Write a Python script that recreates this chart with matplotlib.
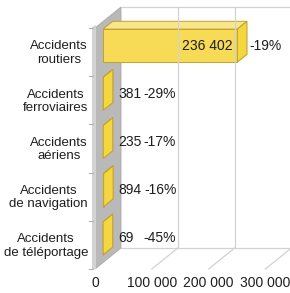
import matplotlib
matplotlib.use("Agg")
import matplotlib.pyplot as plt
from matplotlib.patches import Polygon

plt.rcParams['font.family'] = ['Liberation Sans', 'DejaVu Sans']

categories = ["Accidents\nroutiers", "Accidents\nferroviaires", "Accidents\naériens",
              "Accidents\nde navigation", "Accidents\nde téléportage"]
values = [236402, 381, 235, 894, 69]
value_labels = ["236 402", "381", "235", "894", "69"]
pct_labels = ["-19%", "-29%", "-17%", "-16%", "-45%"]
ticks = [0, 100000, 200000, 300000]
tick_labels = ["0", "100 000", "200 000", "300 000"]

W, H = 290, 293
fig = plt.figure(figsize=(W / 100, H / 100), dpi=100)

# front plane geometry (pixels)
x0_px, x1_px = 95, 95 + 170.4
ytop_px, ybot_px = 28, 269
ax = fig.add_axes([x0_px / W, (H - ybot_px) / H, (x1_px - x0_px) / W, (ybot_px - ytop_px) / H])
ax.set_xlim(0, 300000)
n = len(categories)
YT, YB = -0.5, n - 0.5
ax.set_ylim(YB, YT)
ax.axis('off')

pxu_x = (x1_px - x0_px) / 300000.0          # px per value unit
pxu_y = (ybot_px - ytop_px) / n              # px per category unit
DX = 26 / pxu_x
DY = -21 / pxu_y

def px(dx):
    return dx / pxu_x

def pyy(dy):
    return dy / pxu_y

def P(x, y, d):
    return (x + d * DX, y + d * DY)

grid_c = '#d2d2d2'
kw = dict(clip_on=False)
txt_c = '#1e1e1e'

# back wall grid
xmax = ticks[-1]
for v in ticks[1:]:
    a, b = P(v, YT, 1), P(v, YB, 1)
    ax.plot([a[0], b[0]], [a[1], b[1]], color=grid_c, lw=0.9, **kw)
for yy in (YT, YB):
    a, b = P(0, yy, 1), P(xmax, yy, 1)
    ax.plot([a[0], b[0]], [a[1], b[1]], color=grid_c, lw=0.9, **kw)
# floor diagonals
for v in ticks[1:]:
    a, b = P(v, YB, 0), P(v, YB, 1)
    ax.plot([a[0], b[0]], [a[1], b[1]], color=grid_c, lw=0.9, **kw)

# left wall
wall = Polygon([P(0, YT, 0), P(0, YT, 1), P(0, YB, 1), P(0, YB, 0)],
               closed=True, facecolor='#b9b9b9', edgecolor='#a8a8a8', lw=0.6, **kw)
ax.add_patch(wall)
strip = Polygon([(px(-3), YT + pyy(-1)), (px(1), YT + pyy(-3)), (px(1), YB), (px(-3), YB + pyy(1))],
                closed=True, facecolor='#d3d3d3', edgecolor='none', **kw)
ax.add_patch(strip)
for k in range(n + 1):
    yy = YT + k
    ax.plot([px(-6), px(-2)], [yy, yy], color='#b0b0b0', lw=0.8, **kw)

# bars
h = 0.685
d0, d1 = 0.31, 0.68
edge = '#c4a22a'
for i, v in enumerate(values):
    yt, yb = i - h / 2, i + h / 2
    top = Polygon([P(0, yt, d0), P(v, yt, d0), P(v, yt, d1), P(0, yt, d1)],
                  closed=True, facecolor='#f9e68c', edgecolor=edge, lw=0.7, **kw)
    front = Polygon([P(0, yt, d0), P(v, yt, d0), P(v, yb, d0), P(0, yb, d0)],
                    closed=True, facecolor='#f7da55', edgecolor=edge, lw=0.7, **kw)
    end = Polygon([P(v, yt, d0), P(v, yt, d1), P(v, yb, d1), P(v, yb, d0)],
                  closed=True, facecolor='#f4d640', edgecolor=edge, lw=0.8, **kw)
    ax.add_patch(top)
    ax.add_patch(front)
    ax.add_patch(end)

    cx, cy = P(v, i, d0)
    if v > 50000:
        ax.text(cx - px(5), cy, value_labels[i], ha='right', va='center',
                fontsize=10, color=txt_c, **kw)
        ax.text(cx + px(12), cy, pct_labels[i], ha='left', va='center',
                fontsize=10, color=txt_c, **kw)
    else:
        ax.text(cx + px(15), cy, value_labels[i], ha='left', va='center',
                fontsize=10, color=txt_c, **kw)
        ax.text(cx + px(73), cy, pct_labels[i], ha='right', va='center',
                fontsize=10, color=txt_c, **kw)

# category labels
for i, c in enumerate(categories):
    ax.text(px(-7), i + pyy(1), c, ha='right', va='center', multialignment='center',
            fontsize=9.5, color=txt_c, linespacing=1.15, **kw)

# x tick labels
for v, t in zip(ticks, tick_labels):
    ax.text(v, YB + pyy(14), t, ha='center', va='center', fontsize=10,
            color=txt_c, **kw)

fig.savefig("out.png", dpi=100)
